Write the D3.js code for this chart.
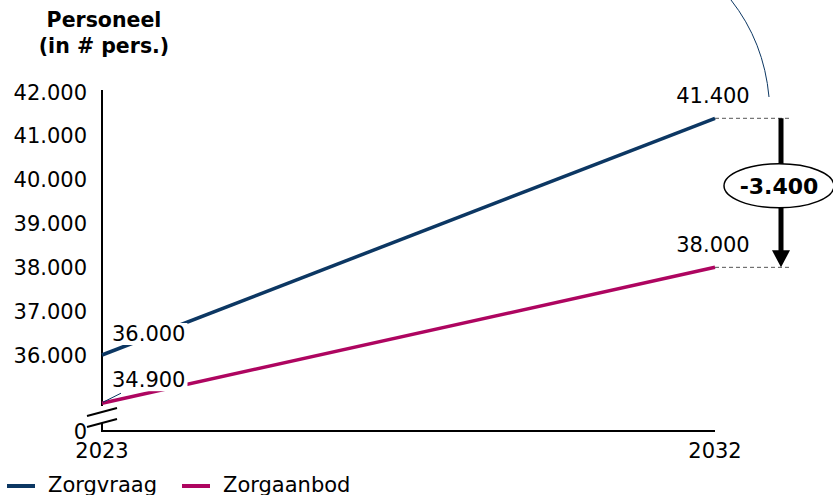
<!DOCTYPE html>
<html>
<head>
<meta charset="utf-8">
<script src="https://cdn.jsdelivr.net/npm/d3@7"></script>
<style>
  body { margin: 0; background: #fff; }
  svg { display: block; font-family: "DejaVu Sans", Verdana, sans-serif; }
</style>
</head>
<body>
<svg id="chart" width="833" height="495"></svg>
<script>
var years = ['2023', '2032'];
var yTicks = [36000, 37000, 38000, 39000, 40000, 41000, 42000];
var zorgvraag = [36000, 41400];
var zorgaanbod = [34900, 38000];
var seriesNames = ['Zorgvraag', 'Zorgaanbod'];
var seriesColors = ['#0c3763', '#ae0560'];
var gap = -3400;

var svg = d3.select('#chart');
var fmt = function (v) {
    return d3.format(',')(v).replace(/,/g, '.').replace('\u2212', '-');
};

var x = d3.scalePoint().domain(years).range([102, 715]);
var y = d3.scaleLinear().domain([36000, 42000]).range([355, 92]);
var yZero = 431;
var fs = '21px';

// title
svg.append('text')
    .attr('x', 104).attr('y', 27)
    .attr('text-anchor', 'middle')
    .style('font-weight', 'bold').style('font-size', '20.5px')
    .text('Personeel');
svg.append('text')
    .attr('x', 104).attr('y', 53)
    .attr('text-anchor', 'middle')
    .style('font-weight', 'bold').style('font-size', '20.5px')
    .text('(in # pers.)');

// y tick labels
svg.selectAll('.ytick')
    .data(yTicks)
    .enter()
    .append('text')
    .attr('class', 'ytick')
    .attr('x', 87)
    .attr('y', function (d) { return y(d); })
    .attr('dy', '0.36em')
    .attr('text-anchor', 'end')
    .style('font-size', fs)
    .text(fmt);

svg.append('text')
    .attr('x', 87).attr('y', yZero)
    .attr('dy', '0.36em')
    .attr('text-anchor', 'end')
    .style('font-size', fs)
    .text('0');

// axes with break
svg.append('line')
    .attr('x1', 102).attr('x2', 102)
    .attr('y1', y(42000) - 2).attr('y2', 406)
    .attr('stroke', '#000').attr('stroke-width', 2);
svg.append('path')
    .attr('d', 'M102 423 V' + yZero + ' H' + x('2032'))
    .attr('fill', 'none')
    .attr('stroke', '#000').attr('stroke-width', 2);
svg.append('line')
    .attr('x1', 87).attr('y1', 416).attr('x2', 117).attr('y2', 408)
    .attr('stroke', '#000').attr('stroke-width', 2);
svg.append('line')
    .attr('x1', 87).attr('y1', 427).attr('x2', 117).attr('y2', 419)
    .attr('stroke', '#000').attr('stroke-width', 2);

// x labels
svg.selectAll('.xtick')
    .data(years)
    .enter()
    .append('text')
    .attr('class', 'xtick')
    .attr('x', function (d) { return x(d); })
    .attr('y', 458)
    .attr('text-anchor', 'middle')
    .style('font-size', fs)
    .text(function (d) { return d; });

// lines
var line = d3.line()
    .x(function (d, i) { return x(years[i]); })
    .y(function (d) { return y(d); });

[zorgvraag, zorgaanbod].forEach(function (s, i) {
    svg.append('path')
        .datum(s)
        .attr('d', line)
        .attr('fill', 'none')
        .attr('stroke', seriesColors[i])
        .attr('stroke-width', 3.5);
});

// small leader near start of Zorgaanbod
svg.append('line')
    .attr('x1', x('2023') + 1).attr('y1', y(zorgaanbod[0]) - 1)
    .attr('x2', x('2023') + 19).attr('y2', y(zorgaanbod[0]) - 10)
    .attr('stroke', seriesColors[0]).attr('stroke-width', 1);

// start labels with white background
function startLabel(val, yy) {
    var g = svg.append('g');
    var t = g.append('text')
        .attr('x', 112).attr('y', yy)
        .style('font-size', fs)
        .text(fmt(val));
    var bb = t.node().getBBox();
    g.insert('rect', 'text')
        .attr('x', bb.x - 2).attr('y', bb.y + 1)
        .attr('width', bb.width + 4).attr('height', bb.height - 2)
        .attr('fill', '#fff');
}
startLabel(zorgvraag[0], y(zorgvraag[0]) - 14);
startLabel(zorgaanbod[0], y(zorgaanbod[0]) - 16);

// end labels
[zorgvraag[1], zorgaanbod[1]].forEach(function (v) {
    svg.append('text')
        .attr('x', x('2032') - 2)
        .attr('y', y(v) - 15)
        .attr('text-anchor', 'middle')
        .style('font-size', fs)
        .text(fmt(v));
});

// dashed guides
[zorgvraag[1], zorgaanbod[1]].forEach(function (v) {
    svg.append('line')
        .attr('x1', x('2032')).attr('x2', 790)
        .attr('y1', y(v)).attr('y2', y(v))
        .attr('stroke', '#555').attr('stroke-width', 1)
        .attr('stroke-dasharray', '4,3');
});

// arrow
var ax = 781;
svg.append('line')
    .attr('x1', ax).attr('x2', ax)
    .attr('y1', y(zorgvraag[1])).attr('y2', y(zorgaanbod[1]) - 15)
    .attr('stroke', '#000').attr('stroke-width', 5);
svg.append('path')
    .attr('d', 'M' + (ax - 9) + ' ' + (y(zorgaanbod[1]) - 17) +
        ' L' + (ax + 9) + ' ' + (y(zorgaanbod[1]) - 17) +
        ' L' + ax + ' ' + y(zorgaanbod[1]) + ' Z')
    .attr('fill', '#000');

var my = (y(zorgvraag[1]) + y(zorgaanbod[1])) / 2 - 7;
svg.append('ellipse')
    .attr('cx', 779).attr('cy', my)
    .attr('rx', 55).attr('ry', 22)
    .attr('fill', '#fff').attr('stroke', '#000').attr('stroke-width', 1.5);
svg.append('text')
    .attr('x', 779).attr('y', my)
    .attr('dy', '0.36em')
    .attr('text-anchor', 'middle')
    .style('font-weight', 'bold').style('font-size', '22px')
    .text(fmt(gap));

// callout arc at top right
svg.append('path')
    .attr('d', 'M731 0 Q764 42 769 97')
    .attr('fill', 'none')
    .attr('stroke', seriesColors[0]).attr('stroke-width', 1);

// legend
var legendX = [7, 182];
seriesNames.forEach(function (n, i) {
    svg.append('line')
        .attr('x1', legendX[i]).attr('x2', legendX[i] + 28)
        .attr('y1', 486).attr('y2', 486)
        .attr('stroke', seriesColors[i]).attr('stroke-width', 4);
    svg.append('text')
        .attr('x', legendX[i] + 41).attr('y', 492)
        .style('font-size', fs)
        .text(n);
});
</script>
</body>
</html>
